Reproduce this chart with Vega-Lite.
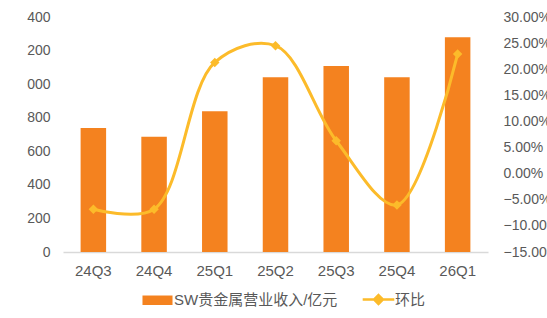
{
  "$schema": "https://vega.github.io/schema/vega-lite/v6.json",
  "autosize": {"type": "none"},
  "padding": {"left": 63, "top": 17, "right": 59, "bottom": 66},
  "width": 425,
  "height": 235,
  "background": "white",
  "config": {
    "view": {"stroke": null},
    "font": "Liberation Sans",
    "axis": {"grid": false, "ticks": false, "labelColor": "#595959", "titleColor": "#595959"}
  },
  "data": {
    "values": [
      {"quarter": "24Q3", "revenue": 739, "qoq": -0.068},
      {"quarter": "24Q4", "revenue": 687, "qoq": -0.068},
      {"quarter": "25Q1", "revenue": 838, "qoq": 0.213},
      {"quarter": "25Q2", "revenue": 1041, "qoq": 0.245},
      {"quarter": "25Q3", "revenue": 1108, "qoq": 0.063},
      {"quarter": "25Q4", "revenue": 1041, "qoq": -0.060},
      {"quarter": "26Q1", "revenue": 1280, "qoq": 0.229}
    ]
  },
  "encoding": {
    "x": {
      "field": "quarter",
      "type": "nominal",
      "sort": null,
      "scale": {"paddingInner": 0.58, "paddingOuter": 0.29},
      "axis": {
        "title": null,
        "labelAngle": 0,
        "labelFontSize": 15,
        "labelPadding": 11,
        "domainColor": "#D9D9D9",
        "domainWidth": 1.5
      }
    }
  },
  "layer": [
    {
      "mark": {"type": "bar", "color": "#F4821F"},
      "encoding": {
        "y": {
          "field": "revenue",
          "type": "quantitative",
          "scale": {"domain": [0, 1400]},
          "axis": {
            "title": null,
            "values": [0, 200, 400, 600, 800, 1000, 1200, 1400],
            "format": "d",
            "labelExpr": "datum.value >= 1000 ? substring(datum.label, 1) : datum.label",
            "labelFontSize": 14,
            "labelPadding": 13,
            "domain": false
          }
        },
        "color": {
          "datum": "SW贵金属营业收入/亿元",
          "type": "nominal",
          "scale": {"domain": ["SW贵金属营业收入/亿元", "环比"], "range": ["#F4821F", "#FCBB2A"]},
          "legend": {
            "title": null,
            "orient": "none",
            "direction": "horizontal",
            "legendX": 87,
            "legendY": 275,
            "labelFont": "Liberation Sans, Noto Sans CJK SC",
            "labelFontSize": 15,
            "labelLimit": 400,
            "labelColor": "#595959",
            "labelOffset": 9,
            "columnPadding": 19,
            "symbolSize": 1000,
            "symbolStrokeWidth": 2.5,
            "encode": {
              "symbols": {
                "update": {
                  "shape": {"signal": "datum.value === '环比' ? 'M-1,0H-0.28M0.28,0H1M0,-0.28L0.28,0L0,0.28L-0.28,0Z' : 'M-0.95,-0.3H0.95V0.3H-0.95Z'"},
                  "fill": {"signal": "datum.value === '环比' ? '#FCBB2A' : '#F4821F'"},
                  "stroke": {"signal": "datum.value === '环比' ? '#FCBB2A' : '#F4821F'"},
                  "strokeWidth": {"signal": "datum.value === '环比' ? 2.5 : 0"},
                  "opacity": {"value": 1}
                }
              }
            }
          }
        }
      }
    },
    {
      "mark": {"type": "line", "interpolate": "catmull-rom", "strokeWidth": 3, "color": "#FCBB2A"},
      "encoding": {
        "y": {
          "field": "qoq",
          "type": "quantitative",
          "scale": {"domain": [-0.15, 0.3]},
          "axis": {
            "orient": "right",
            "title": null,
            "values": [-0.15, -0.1, -0.05, 0, 0.05, 0.1, 0.15, 0.2, 0.25, 0.3],
            "format": ".2%",
            "labelFont": "Liberation Sans Narrow, Liberation Sans",
            "labelFontSize": 14,
            "labelPadding": 15,
            "domain": false
          }
        },
        "color": {"datum": "环比", "type": "nominal"}
      }
    },
    {
      "mark": {"type": "point", "shape": "diamond", "filled": true, "size": 90, "opacity": 1, "color": "#FCBB2A"},
      "encoding": {
        "y": {"field": "qoq", "type": "quantitative", "scale": {"domain": [-0.15, 0.3]}, "axis": null}
      }
    }
  ],
  "resolve": {"scale": {"y": "independent"}}
}
